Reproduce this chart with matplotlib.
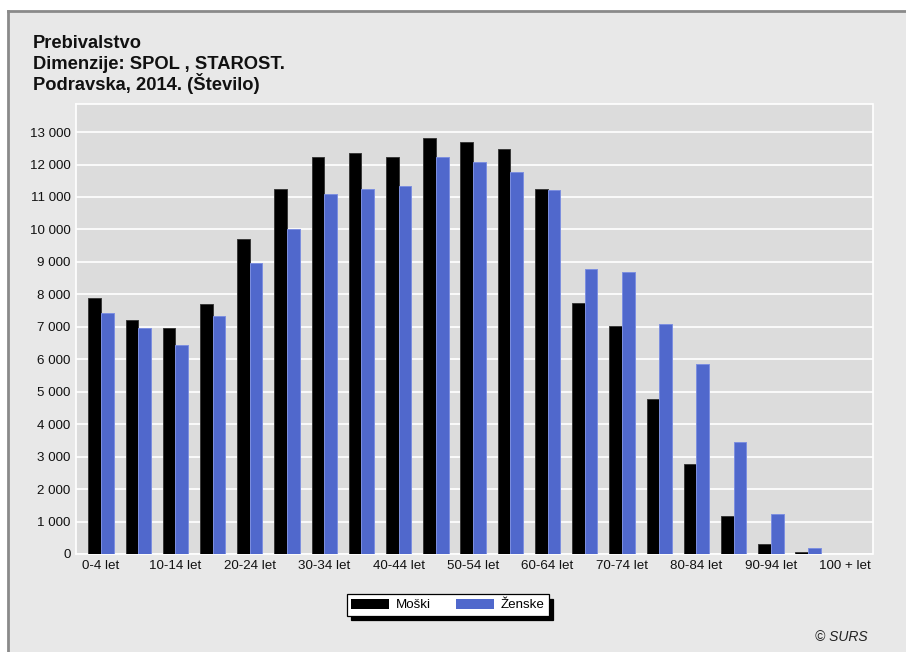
import matplotlib
matplotlib.use("Agg")
import matplotlib.pyplot as plt
from matplotlib.patches import Rectangle
from matplotlib.lines import Line2D
from matplotlib.ticker import FuncFormatter, MultipleLocator
import numpy as np

plt.rcParams['font.family'] = ['Liberation Sans', 'DejaVu Sans']

# Age groups (5-year bands)
age_groups = ['0-4 let', '5-9 let', '10-14 let', '15-19 let', '20-24 let', '25-29 let',
              '30-34 let', '35-39 let', '40-44 let', '45-49 let', '50-54 let', '55-59 let',
              '60-64 let', '65-69 let', '70-74 let', '75-79 let', '80-84 let', '85-89 let',
              '90-94 let', '95-99 let', '100 + let']

# Population counts by sex
moski = [7900, 7220, 6970, 7690, 9700, 11250, 12240, 12340, 12240, 12810, 12680, 12490,
         11250, 7730, 7010, 4770, 2770, 1180, 300, 60, 5]
zenske = [7410, 6970, 6450, 7330, 8980, 10010, 11090, 11250, 11330, 12220, 12090, 11770,
          11210, 8770, 8690, 7100, 5850, 3450, 1220, 175, 15]

series_names = ['Moški', 'Ženske']
title_lines = ['Prebivalstvo', 'Dimenzije: SPOL , STAROST.', 'Podravska, 2014. (Število)']

W, H = 906, 652
fig = plt.figure(figsize=(W / 100, H / 100), dpi=100)
fig.patch.set_facecolor('white')

# Framed light-grey panel
panel = Rectangle((8 / W, 0), 1 - 8 / W, 1 - 11 / H, transform=fig.transFigure,
                  facecolor='#e8e8e8', edgecolor='none', zorder=-10)
fig.add_artist(panel)
fig.add_artist(Line2D([8 / W, 1], [1 - 11 / H, 1 - 11 / H], transform=fig.transFigure,
                      color='#8a8a8a', lw=2.0))
fig.add_artist(Line2D([8 / W, 8 / W], [0, 1 - 11 / H], transform=fig.transFigure,
                      color='#8a8a8a', lw=2.0))

ax = fig.add_axes([76 / W, 1 - 554 / H, (872.5 - 76) / W, (554 - 103.5) / H])
ax.set_facecolor('#dcdcdc')

x = np.arange(len(age_groups))
bw = 0.34
c_m = '#000000'
c_z = '#5068cc'
ax.bar(x - bw / 2, moski, width=bw, color=c_m, edgecolor='#3a3a3a', linewidth=0.7,
       label=series_names[0], zorder=3)
ax.bar(x + bw / 2, zenske, width=bw, color=c_z, edgecolor='#7d8fe0', linewidth=0.7,
       label=series_names[1], zorder=3)

ax.set_xlim(-0.67, len(age_groups) - 1 + 0.73)
ax.set_ylim(0, 13880)
ax.yaxis.set_major_locator(MultipleLocator(1000))
ax.yaxis.set_major_formatter(FuncFormatter(lambda v, p: f"{int(v):,}".replace(",", " ")))
ax.grid(axis='y', color='white', linewidth=1.2, zorder=1)
ax.set_axisbelow(True)

ax.set_xticks(x[::2])
ax.set_xticklabels(age_groups[::2])
ax.tick_params(axis='both', length=0, labelsize=9.6, labelcolor='#111111')
ax.tick_params(axis='y', pad=4)
ax.tick_params(axis='x', pad=4)

for s in ax.spines.values():
    s.set_color('white')
    s.set_linewidth(1.2)

# Title block, one line at a time
for line, base in zip(title_lines, [48.5, 69.0, 89.5]):
    fig.text(33 / W, 1 - base / H, line, ha='left', va='baseline',
             fontsize=13.2, fontweight='bold', color='#111111')

# Legend with a solid drop shadow
leg = fig.legend(loc='center', bbox_to_anchor=(448 / W, 1 - 605 / H), ncol=2,
                 fontsize=9.6, frameon=True, fancybox=False, handlelength=2.8,
                 handleheight=0.75, handletextpad=0.55, columnspacing=1.9,
                 borderpad=0.33, borderaxespad=0,
                 shadow={'color': 'black', 'alpha': 1.0, 'ox': 3, 'oy': -3})
leg.get_frame().set_edgecolor('black')
leg.get_frame().set_linewidth(0.9)
leg.get_frame().set_facecolor('white')
for h in leg.legend_handles:
    h.set_linewidth(0)

fig.text(841 / W, 1 - 637 / H, '© SURS', ha='center', va='center', fontsize=10,
         style='italic', color='#222222')

fig.savefig('out.png', dpi=100, facecolor=fig.get_facecolor())
